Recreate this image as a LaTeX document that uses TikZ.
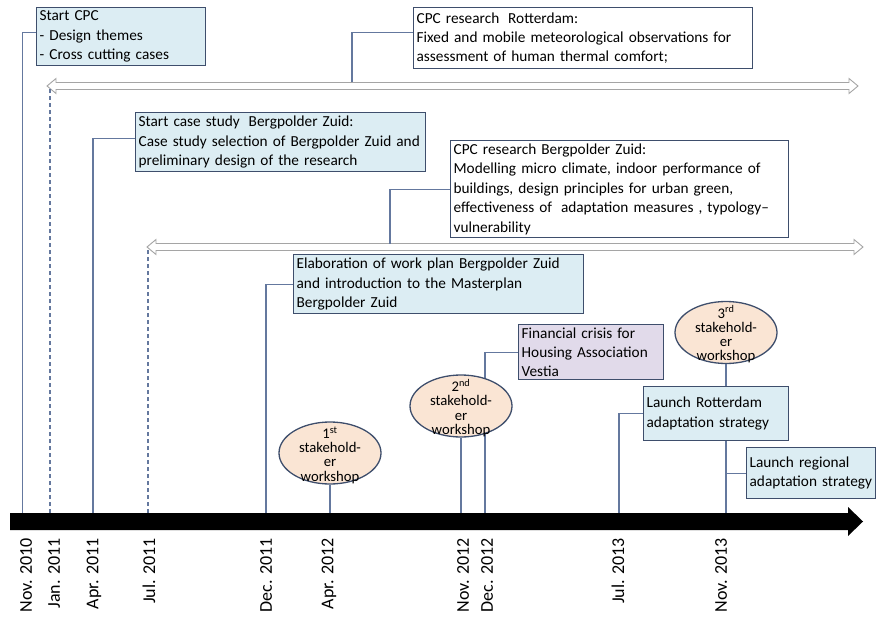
\documentclass[tikz,border=0pt]{standalone}
\usepackage{fontspec}
\setmainfont{Carlito}
\usetikzlibrary{shapes.geometric}
\definecolor{boxblue}{RGB}{220,237,243}
\definecolor{boxpurple}{RGB}{225,218,234}
\definecolor{peach}{RGB}{250,229,212}
\definecolor{edgec}{RGB}{62,78,108}
\definecolor{connc}{RGB}{100,120,158}
\definecolor{hollowc}{RGB}{165,165,165}
\tikzset{
  boxstyle/.style={draw=edgec, line width=1.3pt, anchor=north west, align=left,
    inner xsep=3pt, inner ysep=1pt, font=\fontsize{15.3}{19.4}\selectfont},
  bluebox/.style={boxstyle, fill=boxblue},
  whitebox/.style={boxstyle, fill=white},
  purplebox/.style={boxstyle, fill=boxpurple},
  wshop/.style={ellipse, draw=edgec, line width=1.3pt, fill=peach, inner sep=0pt,
    minimum width=102pt, minimum height=62pt},
  wtext/.style={align=center, inner sep=0pt, font=\fontsize{14.7}{14.3}\selectfont},
  conn/.style={draw=connc, line width=1.2pt},
  dashconn/.style={draw=connc, line width=1.2pt, dash pattern=on 4pt off 3pt},
  hollow/.style={draw=hollowc, line width=0.9pt, fill=white},
  datelbl/.style={rotate=90, anchor=east, inner sep=0pt, font=\fontsize{18}{18}\selectfont}
}
\begin{document}
\begin{tikzpicture}[x=1pt, y=-1pt]
\useasboundingbox (0,0) rectangle (877,620);

% hollow double arrows
\draw[hollow] (47,86) -- (56,78.5) -- (56,82.5) -- (849,82.5) -- (849,78.5) -- (858,86)
  -- (849,93.5) -- (849,89.5) -- (56,89.5) -- (56,93.5) -- cycle;
\draw[hollow] (147,247) -- (156,239.5) -- (156,243.5) -- (854,243.5) -- (854,239.5) -- (863,247)
  -- (854,254.5) -- (854,250.5) -- (156,250.5) -- (156,254.5) -- cycle;
\coordinate (a1tip) at (50,88);
\coordinate (a1top) at (352,82.5);
\coordinate (a2tip) at (148,249);
\coordinate (a2top) at (390,243.5);

% timeline coordinates
\coordinate (tNovA) at (22.7,513);
\coordinate (tJanA) at (50,513);
\coordinate (tAprA) at (93,513);
\coordinate (tJulA) at (148,513);
\coordinate (tDecA) at (266,513);
\coordinate (tAprB) at (330,513);
\coordinate (tNovB) at (461,513);
\coordinate (tDecB) at (485,513);
\coordinate (tJulB) at (619,513);
\coordinate (tNovC) at (726,513);

% boxes
\node[bluebox, text width=163pt, minimum height=58pt] (cpc) at (36,7)
  {Start CPC\\- Design themes\\- Cross cutting cases};
\node[whitebox, text width=333pt, minimum height=61pt] (rot) at (413,7)
  {CPC research\hspace{0.25em} Rotterdam:\\Fixed and mobile meteorological observations for\\assessment of human thermal comfort;};
\node[bluebox, text width=284pt, minimum height=59pt] (case) at (135,112)
  {Start case study\hspace{0.25em} Bergpolder Zuid:\\Case study selection of Bergpolder Zuid and\\preliminary design of the research};
\node[whitebox, text width=332pt, minimum height=97pt] (bz) at (450,140)
  {CPC research Bergpolder Zuid:\\Modelling micro climate, indoor performance of\\buildings, design principles for urban green,\\effectiveness of\hspace{0.25em} adaptation measures , typology--\\vulnerability};
\node[bluebox, text width=284pt, minimum height=59pt] (elab) at (293,254)
  {Elaboration of work plan Bergpolder Zuid\\and introduction to the Masterplan\\Bergpolder Zuid};
\node[purplebox, text width=139pt, minimum height=55pt] (fin) at (518,324)
  {Financial crisis for\\Housing Association\\Vestia};
\node[bluebox, text width=139pt, minimum height=54pt] (lrot) at (643,386)
  {Launch Rotterdam\\adaptation strategy};
\node[bluebox, text width=123pt, minimum height=51pt] (lreg) at (746,447)
  {Launch regional\\adaptation strategy};

% connectors (drawn before ellipses)
\draw[conn] (tNovA) |- ([yshift=4pt]cpc.west);
\draw[conn] (a1top) |- ([yshift=5.5pt]rot.west);
\draw[dashconn] (tJanA) -- (a1tip);
\draw[conn] (tAprA) |- ([yshift=3.5pt]case.west);
\draw[dashconn] (tJulA) -- (a2tip);
\draw[conn] (a2top) |- (bz.west);
\draw[conn] (tDecA) |- (elab.west);
\draw[conn] (tDecB) |- (fin.west);
\draw[conn] (tJulB) |- (lrot.west);

% workshops
\node[wshop] (w1) at (330,453) {};
\node[wshop] (w2) at (461,406) {};
\node[wshop] (w3) at (726,332.5) {};
\node[wtext] (w1t) at (330,455) {1\textsuperscript{st}\\stakehold-\\er\\workshop};
\node[wtext] (w2t) at (461,408) {2\textsuperscript{nd}\\stakehold-\\er\\workshop};
\node[wtext] (w3t) at (726,334.5) {3\textsuperscript{rd}\\stakehold-\\er\\workshop};

\draw[conn] (tAprB) -- (w1.south);
\draw[conn] (tNovB) -- (w2.south);
\draw[conn] (w3.south) -- (lrot.north -| w3.south);
\draw[conn] (tNovC) -- (lrot.south -| tNovC);
\draw[conn] (lreg.west) -- (lreg.west -| tNovC);

% timeline bar
\fill[black] (10,513) -- (848,513) -- (848,507) -- (863,521.5) -- (848,536) -- (848,530) -- (10,530) -- cycle;

% date labels
\node[datelbl] (dNovA) at (26,538) {Nov. 2010};
\node[datelbl] (dJanA) at (54,538) {Jan. 2011};
\node[datelbl] (dAprA) at (94,538) {Apr. 2011};
\node[datelbl] (dJulA) at (149,538) {Jul. 2011};
\node[datelbl] (dDecA) at (266,538) {Dec. 2011};
\node[datelbl] (dAprB) at (329,538) {Apr. 2012};
\node[datelbl] (dNovB) at (463,538) {Nov. 2012};
\node[datelbl] (dDecB) at (487,538) {Dec. 2012};
\node[datelbl] (dJulB) at (618,538) {Jul. 2013};
\node[datelbl] (dNovC) at (721,538) {Nov. 2013};
\end{tikzpicture}
\end{document}
